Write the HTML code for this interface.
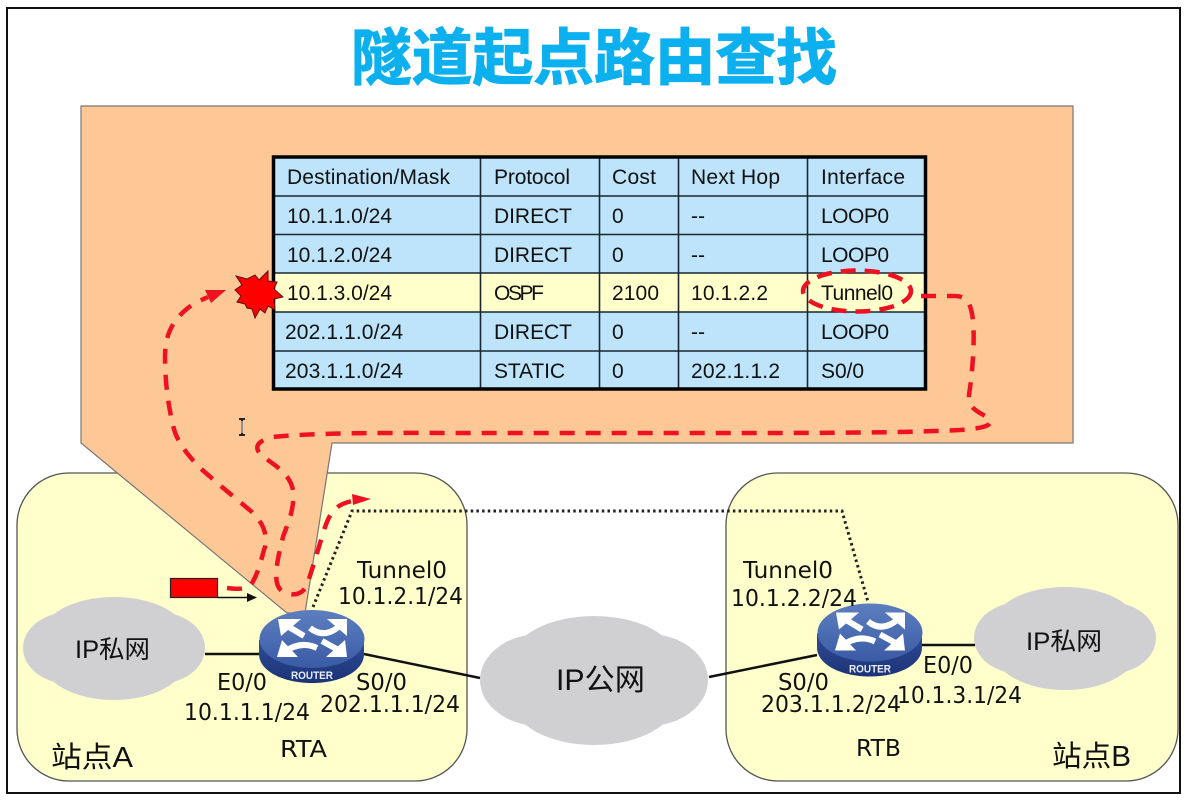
<!DOCTYPE html>
<html><head><meta charset="utf-8"><style>
html,body{margin:0;padding:0;background:#fff}
svg{display:block}
.t{font-family:"Liberation Sans","Noto Sans CJK SC",sans-serif;font-size:21px;fill:#111}
.l{font-family:"DejaVu Sans","Noto Sans CJK SC",sans-serif;font-size:23px;fill:#111}
.c{font-family:"Liberation Sans","Noto Sans CJK SC",sans-serif;font-size:25px;fill:#111}
</style></head><body>
<svg width="1186" height="803" viewBox="0 0 1186 803" xmlns="http://www.w3.org/2000/svg">
<defs>
<linearGradient id="rt" x1="0" y1="0" x2="0" y2="1"><stop offset="0" stop-color="#5d7fc0"/><stop offset="1" stop-color="#3a5ba5"/></linearGradient>
<linearGradient id="rs" x1="0" y1="0" x2="0" y2="1"><stop offset="0" stop-color="#2f4d96"/><stop offset="1" stop-color="#1c3277"/></linearGradient>
<g id="router">
<path d="M259 640V654C259 671 283 683 312 683S364 671 364 654V640Z" fill="url(#rs)"/>
<ellipse cx="312" cy="639" rx="52.500" ry="29" fill="url(#rt)"/>
<g fill="none" stroke="#fff" stroke-width="6" stroke-linecap="butt">
<path d="M284 624L304 636"/><path d="M310 628Q325 640 342 624"/>
<path d="M283 653Q300 640 317 648"/><path d="M322 641L342 652"/>
</g>
<g fill="#fff">
<polygon points="278,619 301,619 281,636"/><polygon points="347,619 347,636 327,619"/>
<polygon points="277,657 282,640 298,657"/><polygon points="347,657 326,657 345,640"/>
</g>
<text x="291" y="679" font-family="'Liberation Sans',sans-serif" font-size="11" font-weight="bold" fill="#e8eefc" textLength="42" lengthAdjust="spacingAndGlyphs">ROUTER</text>
</g>
<g id="cloud">
<ellipse cx="114" cy="635" rx="72" ry="38"/><ellipse cx="114" cy="660" rx="72" ry="40"/>
<ellipse cx="70" cy="648" rx="47" ry="36"/><ellipse cx="158" cy="648" rx="47" ry="36"/>
</g>
</defs>
<rect width="1186" height="803" fill="#fff"/>
<rect x="7" y="8" width="1173" height="785" fill="#fff" stroke="#111" stroke-width="2"/>
<text x="351" y="79" font-family="'Noto Sans CJK SC',sans-serif" font-weight="700" font-size="61" fill="#0cb0ee" stroke="#0cb0ee" stroke-width="1.2" textLength="486" lengthAdjust="spacingAndGlyphs">隧道起点路由查找</text>

<rect x="17" y="473" width="450" height="308" rx="52" fill="#ffffcc" stroke="#555" stroke-width="1.3"/>
<rect x="726" y="473" width="452" height="308" rx="52" fill="#ffffcc" stroke="#555" stroke-width="1.3"/>

<polygon points="81,106 1073,106 1073,443 332,443 305,613 287,613 81,443" fill="#fdc896" stroke="#777" stroke-width="1.2"/>

<!-- table -->
<rect x="273" y="156" width="653" height="234" fill="#bde4fb"/>
<rect x="273" y="273" width="653" height="39" fill="#ffffcc"/>
<g stroke="#1a2630" stroke-width="1.6">
<path d="M273 196H926M273 234.500H926M273 273H926M273 312H926M273 351H926M480.500 156V390M599.500 156V390M678.500 156V390M807.500 156V390" fill="none"/>
</g>
<rect x="273.500" y="157" width="652" height="232" fill="none" stroke="#000" stroke-width="3.500"/>
<g class="t">
<text x="287" y="184" textLength="163">Destination/Mask</text>
<text x="494" y="184" textLength="76">Protocol</text>
<text x="612" y="184" textLength="44">Cost</text>
<text x="691" y="184" textLength="89">Next Hop</text>
<text x="821" y="184" textLength="84">Interface</text>
<text x="287" y="223" textLength="105">10.1.1.0/24</text>
<text x="494" y="223" textLength="78">DIRECT</text>
<text x="612" y="223">0</text><text x="691" y="223">--</text>
<text x="821" y="223" textLength="68">LOOP0</text>
<text x="287" y="262" textLength="105">10.1.2.0/24</text>
<text x="494" y="262" textLength="78">DIRECT</text>
<text x="612" y="262">0</text><text x="691" y="262">--</text>
<text x="821" y="262" textLength="68">LOOP0</text>
<text x="287" y="300" textLength="105">10.1.3.0/24</text>
<text x="494" y="300" textLength="50">OSPF</text>
<text x="612" y="300" textLength="47">2100</text>
<text x="691" y="300" textLength="77">10.1.2.2</text>
<text x="821" y="300" textLength="72">Tunnel0</text>
<text x="285" y="339" textLength="118">202.1.1.0/24</text>
<text x="494" y="339" textLength="78">DIRECT</text>
<text x="612" y="339">0</text><text x="691" y="339">--</text>
<text x="821" y="339" textLength="68">LOOP0</text>
<text x="285" y="378" textLength="118">203.1.1.0/24</text>
<text x="494" y="378" textLength="71">STATIC</text>
<text x="612" y="378">0</text>
<text x="691" y="378" textLength="89">202.1.1.2</text>
<text x="821" y="378" textLength="43">S0/0</text>
</g>

<!-- clouds -->
<g fill="#d0d0d2">
<use href="#cloud"/>
<use href="#cloud" x="951" y="-10"/>
<ellipse cx="594" cy="660" rx="82" ry="44"/><ellipse cx="594" cy="700" rx="82" ry="45"/>
<ellipse cx="540" cy="680" rx="60" ry="46"/><ellipse cx="648" cy="680" rx="60" ry="46"/>
</g>

<!-- links -->
<g stroke="#111" stroke-width="2.500" fill="none">
<path d="M205 654H260M364 654L480 678M709 677L817 655M921 645H975"/>
</g>
<path d="M313 607L352 511H842L868 602" fill="none" stroke="#222" stroke-width="3" stroke-dasharray="2.500 3.200"/>

<use href="#router"/>
<use href="#router" x="558" y="-6.500"/>

<!-- packet -->
<rect x="170.500" y="578.500" width="47" height="19" fill="#ff0000" stroke="#222" stroke-width="1.200"/>
<path d="M218 597.500H248" stroke="#111" stroke-width="1.400"/>
<polygon points="257,597.500 247,593 247,602" fill="#111"/>

<!-- red flow -->
<g fill="none" stroke="#ee1122" stroke-width="4.500" stroke-dasharray="15 11">
<path d="M227 588C236 589 245 590 251 585C260 570 262 555 265 547C268 533 262 522 252 512L222 487L200 468C185 452 176 440 173 425C168 405 165 380 165 357C165 335 172 318 195 303L208 297"/>
<path d="M921 296H955C968 296 971 305 973 320C975 345 972 375 969 395C968 410 980 412 990 419C992 426 985 428 960 430C900 433 820 433 700 433H480C400 433 320 432 273 437C257 441 253 447 262 456C278 467 290 475 293 490C295 510 287 525 283 537C276 565 272 585 283 592C293 597 303 594 307 585C312 570 318 550 324 530C330 512 335 505 352 501"/>
</g>
<polygon points="226,290 205,290 211,303" fill="#ee1122"/>
<polygon points="371,499 352,494 353,505" fill="#ee1122"/>
<ellipse cx="857" cy="291" rx="54" ry="20.500" fill="none" stroke="#ee1122" stroke-width="4.500" stroke-dasharray="15 9"/>

<!-- burst -->
<polygon points="236,276 247,279 255,275 259,280 268,271 268,281 277,282 274,289 283,297 274,299 275,310 268,306 265,313 260,309 255,318 252,309 247,308 245,304 237,302 241,296 235,290 242,285" fill="#ff0000" stroke="#5a1010" stroke-width="1"/>

<!-- I-beam -->
<path d="M239 419H245M242 419V435M239 435H245" stroke="#222" stroke-width="2" fill="none"/>
<path d="M242 421V433" stroke="#fff" stroke-width="1"/>

<!-- labels -->
<g class="l">
<text x="357" y="578" textLength="90" lengthAdjust="spacingAndGlyphs">Tunnel0</text>
<text x="338" y="604" textLength="125" lengthAdjust="spacingAndGlyphs">10.1.2.1/24</text>
<text x="217" y="690" textLength="50" lengthAdjust="spacingAndGlyphs">E0/0</text>
<text x="184" y="720" textLength="126" lengthAdjust="spacingAndGlyphs">10.1.1.1/24</text>
<text x="356" y="690" textLength="51" lengthAdjust="spacingAndGlyphs">S0/0</text>
<text x="320" y="712" textLength="140" lengthAdjust="spacingAndGlyphs">202.1.1.1/24</text>
<text x="280" y="757" textLength="47" lengthAdjust="spacingAndGlyphs">RTA</text>
<text x="743" y="578" textLength="90" lengthAdjust="spacingAndGlyphs">Tunnel0</text>
<text x="731" y="606" textLength="126" lengthAdjust="spacingAndGlyphs">10.1.2.2/24</text>
<text x="778" y="690" textLength="51" lengthAdjust="spacingAndGlyphs">S0/0</text>
<text x="761" y="712" textLength="140" lengthAdjust="spacingAndGlyphs">203.1.1.2/24</text>
<text x="923" y="673" textLength="50" lengthAdjust="spacingAndGlyphs">E0/0</text>
<text x="897" y="703" textLength="125" lengthAdjust="spacingAndGlyphs">10.1.3.1/24</text>
<text x="856" y="756" textLength="45" lengthAdjust="spacingAndGlyphs">RTB</text>
</g>
<g class="c">
<text x="75" y="658" textLength="75" lengthAdjust="spacingAndGlyphs">IP私网</text>
<text x="1026" y="650" textLength="76" lengthAdjust="spacingAndGlyphs">IP私网</text>
<text x="556" y="690" font-size="30" style="font-size:30px" textLength="89" lengthAdjust="spacingAndGlyphs">IP公网</text>
<text x="51" y="767" style="font-size:29px" textLength="82" lengthAdjust="spacingAndGlyphs">站点A</text>
<text x="1052" y="766" style="font-size:29px" textLength="79" lengthAdjust="spacingAndGlyphs">站点B</text>
</g>
</svg>
</body></html>
